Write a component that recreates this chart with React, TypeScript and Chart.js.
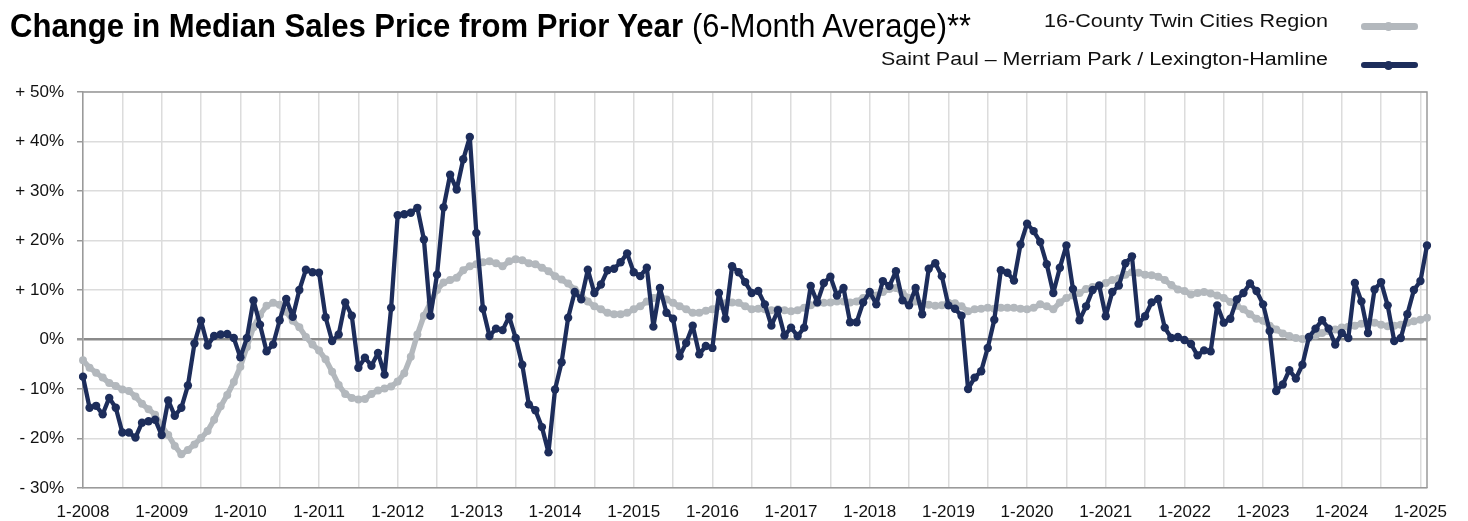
import React, { useEffect, useLayoutEffect, useRef } from "react";
import { Chart, registerables } from "chart.js";

Chart.register(...registerables);

const TITLE_BOLD = "Change in Median Sales Price from Prior Year";
const TITLE_REGULAR = "(6-Month Average)**";
const SERIES_NAMES = [
  "16-County Twin Cities Region",
  "Saint Paul – Merriam Park / Lexington-Hamline",
];

const START_YEAR = 2008;
const MONTH_COUNT = 206;
const categories: string[] = [];
for (let i = 0; i < MONTH_COUNT; i++) {
  categories.push(`${(i % 12) + 1}-${START_YEAR + Math.floor(i / 12)}`);
}

const Y_MIN = -30;
const Y_MAX = 50;
const Y_STEP = 10;

// 16-County Twin Cities Region (monthly, 1-2008 .. 2-2025)
const regionValues = [
  -4.2, -5.7, -6.7, -7.7, -8.8, -9.4, -10.1, -10.4, -11.5, -13.0, -14.1, -15.2,
  -17.5, -19.3, -21.5, -23.2, -22.3, -21.2, -19.9, -18.5, -16.2, -13.5, -11.2, -8.6,
  -5.5, -1.5, 2.5, 5.0, 6.8, 7.4, 7.0, 5.6, 3.8, 2.5, 0.5, -1.0,
  -2.2, -4.0, -6.5, -9.2, -11.0, -11.8, -12.1, -12.0, -11.0, -10.3, -9.9, -9.5,
  -8.5, -6.8, -3.5, 1.0, 4.8, 7.5, 10.0, 11.5, 12.0, 12.5, 14.0, 14.8,
  15.2, 15.6, 15.8, 15.4, 14.8, 15.8, 16.2, 16.0, 15.4, 15.2, 14.5, 13.8,
  12.8, 12.1, 11.3, 10.1, 8.8, 7.7, 6.7, 6.1, 5.4, 5.1, 5.1, 5.4,
  6.1, 6.7, 7.7, 8.4, 8.8, 8.1, 7.4, 6.7, 6.1, 5.4, 5.4, 5.8,
  6.1, 6.7, 7.3, 7.5, 7.4, 6.7, 6.1, 6.2, 6.1, 5.9, 6.1, 5.9,
  5.7, 5.9, 6.4, 6.9, 7.3, 7.4, 7.5, 7.7, 7.7, 7.5, 7.7, 8.4,
  8.9, 8.9, 9.6, 10.2, 10.4, 9.4, 8.4, 7.7, 7.2, 7.0, 6.8, 6.9,
  7.4, 7.3, 6.7, 5.7, 6.1, 6.2, 6.4, 6.2, 6.4, 6.4, 6.4, 6.2,
  6.1, 6.4, 7.1, 6.7, 6.1, 7.5, 8.4, 8.9, 9.4, 10.2, 10.6, 10.8,
  11.4, 12.0, 12.3, 13.1, 13.6, 13.5, 13.1, 13.0, 12.7, 12.0, 11.0, 10.1,
  9.8, 9.1, 9.4, 9.6, 9.3, 8.9, 8.4, 7.6, 6.8, 6.1, 5.1, 4.2,
  3.8, 2.8, 2.0, 1.2, 0.7, 0.3, 0.1, 0.3, 0.8, 1.3, 1.7, 2.0,
  2.4, 2.6, 2.8, 3.2, 3.5, 3.4, 3.0, 2.7, 2.8, 3.0, 3.4, 3.7,
  4.0, 4.4,
];

// Saint Paul – Merriam Park / Lexington-Hamline (monthly, 1-2008 .. 2-2025)
const neighborhoodValues = [
  -7.5, -13.8, -13.4, -15.1, -11.8, -13.8, -18.8, -18.8, -19.8, -16.8, -16.5, -16.2,
  -19.3, -12.3, -15.4, -13.8, -9.3, -0.8, 3.8, -1.2, 0.7, 1.0, 1.1, 0.3,
  -3.6, 0.3, 7.9, 3.0, -2.4, -1.0, 3.9, 8.2, 4.6, 10.0, 14.1, 13.6,
  13.5, 4.5, -0.3, 1.0, 7.5, 4.8, -5.7, -3.7, -5.3, -2.7, -7.1, 6.4,
  25.1, 25.3, 25.6, 26.6, 20.2, 4.8, 13.1, 26.7, 33.3, 30.3, 36.4, 40.9,
  21.5, 6.2, 0.7, 2.2, 1.9, 4.6, 0.3, -5.1, -13.1, -14.3, -17.7, -22.8,
  -10.1, -4.6, 4.4, 9.6, 8.1, 14.1, 9.4, 11.1, 14.0, 14.3, 15.6, 17.4,
  13.6, 12.8, 14.5, 2.6, 10.4, 5.4, 4.2, -3.4, -0.7, 2.8, -3.0, -1.3,
  -1.7, 9.4, 4.2, 14.8, 13.6, 11.6, 9.4, 9.8, 7.1, 2.8, 5.9, 0.8,
  2.4, 0.7, 2.4, 10.8, 7.5, 11.4, 12.7, 8.9, 10.4, 3.5, 3.5, 7.5,
  9.6, 7.1, 11.8, 10.8, 13.8, 7.9, 6.9, 10.4, 5.1, 14.3, 15.4, 12.8,
  6.9, 6.2, 4.8, -10.0, -7.7, -6.4, -1.7, 4.0, 14.0, 13.5, 11.9, 19.2,
  23.4, 21.9, 19.7, 15.2, 9.4, 14.5, 19.0, 10.2, 3.9, 6.7, 10.0, 10.9,
  4.7, 9.6, 10.9, 15.4, 16.8, 3.2, 4.7, 7.5, 8.2, 2.4, 0.3, 0.5,
  -0.1, -0.9, -3.2, -2.2, -2.4, 6.9, 3.4, 4.2, 8.1, 9.4, 11.3, 9.8,
  7.1, 1.7, -10.4, -9.1, -6.2, -7.9, -5.1, 0.5, 2.2, 3.9, 2.2, -1.0,
  1.3, 0.3, 11.4, 7.7, 1.3, 10.1, 11.6, 6.9, -0.3, 0.3, 5.1, 10.0,
  11.8, 19.0,
];

const NAVY = "#1d2d5b";
const GREY = "#b3b8bd";
const GRID = "#dcdcdc";
const FRAME = "#9a9a9a";
const FONT = "'Liberation Sans', Arial, Helvetica, sans-serif";

function formatPct(v: number): string {
  if (v > 0) return `+ ${v}%`;
  if (v < 0) return `- ${-v}%`;
  return "0%";
}

type FitProps = {
  text: string;
  left: number;
  width: number;
  baseline: number;
  size: number;
  weight?: number;
  color?: string;
};

function FitText({ text, left, width, baseline, size, weight = 400, color = "#111" }: FitProps) {
  const ref = useRef<HTMLSpanElement>(null);
  useLayoutEffect(() => {
    const el = ref.current;
    if (!el) return;
    el.style.transform = "none";
    const w = el.getBoundingClientRect().width;
    if (w > 0) el.style.transform = `scaleX(${width / w})`;
  }, [text, width, size]);
  return (
    <span
      ref={ref}
      style={{
        position: "absolute",
        left,
        top: baseline - 0.8465 * size,
        fontFamily: FONT,
        fontSize: size,
        lineHeight: `${size}px`,
        fontWeight: weight,
        color,
        whiteSpace: "nowrap",
        transformOrigin: "left center",
        display: "inline-block",
      }}
    >
      {text}
    </span>
  );
}

function LegendSwatch({ color, y }: { color: string; y: number }) {
  return (
    <>
      <div
        style={{
          position: "absolute",
          left: 1361,
          top: y - 3.3,
          width: 57,
          height: 6.6,
          borderRadius: 3.3,
          background: color,
        }}
      />
      <div
        style={{
          position: "absolute",
          left: 1388 - 4.5,
          top: y - 4.5,
          width: 9,
          height: 9,
          borderRadius: 4.5,
          background: color,
        }}
      />
    </>
  );
}

const framePlugin = {
  id: "frame",
  beforeDatasetsDraw(chart: any) {
    const { ctx, chartArea } = chart;
    ctx.save();
    ctx.strokeStyle = FRAME;
    ctx.lineWidth = 1.5;
    ctx.beginPath();
    ctx.moveTo(chartArea.left, chartArea.top);
    ctx.lineTo(chartArea.right, chartArea.top);
    ctx.lineTo(chartArea.right, chartArea.bottom);
    ctx.stroke();
    ctx.restore();
  },
};

export default function App() {
  const canvasRef = useRef<HTMLCanvasElement>(null);

  useEffect(() => {
    const canvas = canvasRef.current;
    if (!canvas) return;
    const chart = new Chart(canvas, {
      type: "line",
      data: {
        labels: categories,
        datasets: [
          {
            label: SERIES_NAMES[1],
            data: neighborhoodValues,
            borderColor: NAVY,
            backgroundColor: NAVY,
            pointBackgroundColor: NAVY,
            pointBorderWidth: 0,
            borderWidth: 4.3,
            borderJoinStyle: "round",
            borderCapStyle: "round",
            pointRadius: 4.2,
            tension: 0,
            order: 1,
          },
          {
            label: SERIES_NAMES[0],
            data: regionValues,
            borderColor: GREY,
            backgroundColor: GREY,
            pointBackgroundColor: GREY,
            pointBorderWidth: 0,
            borderWidth: 5.4,
            borderJoinStyle: "round",
            borderCapStyle: "round",
            pointRadius: 4,
            tension: 0,
            order: 2,
          },
        ],
      },
      options: {
        animation: false,
        responsive: false,
        devicePixelRatio: 1,
        layout: { padding: { top: 92, right: 41, left: 0, bottom: 0 } },
        plugins: {
          legend: { display: false },
          tooltip: { enabled: false },
          title: { display: false },
        },
        scales: {
          x: {
            type: "category",
            offset: false,
            afterFit: (s: any) => {
              s.height = 33;
            },
            grid: {
              offset: false,
              drawTicks: false,
              color: (c: any) => (c.index % 6 === 0 ? GRID : "rgba(0,0,0,0)"),
              lineWidth: 1.5,
            },
            border: { display: true, color: FRAME, width: 1.5 },
            ticks: {
              autoSkip: false,
              maxRotation: 0,
              minRotation: 0,
              padding: 14,
              color: "#111",
              font: { family: FONT, size: 17 },
              callback: (_v: any, i: number) => (i % 12 === 0 ? categories[i] : ""),
            },
          },
          y: {
            min: Y_MIN,
            max: Y_MAX,
            afterFit: (s: any) => {
              s.width = 83;
            },
            grid: {
              color: (c: any) => (c.tick && c.tick.value === 0 ? "#8a8a8a" : GRID),
              lineWidth: (c: any) => (c.tick && c.tick.value === 0 ? 2.5 : 1.5),
              tickColor: FRAME,
              tickLength: 6,
              drawTicks: true,
            },
            border: { display: true, color: FRAME, width: 1.5 },
            ticks: {
              stepSize: Y_STEP,
              padding: 13,
              color: "#111",
              font: { family: FONT, size: 17 },
              callback: (v: any) => formatPct(Number(v)),
            },
          },
        },
      },
      plugins: [framePlugin],
    });
    return () => chart.destroy();
  }, []);

  return (
    <div
      style={{
        position: "absolute",
        left: 0,
        top: 0,
        width: 1468,
        height: 521,
        background: "#fff",
        overflow: "hidden",
      }}
    >
      <canvas
        ref={canvasRef}
        width={1468}
        height={521}
        style={{ position: "absolute", left: 0, top: 0, width: 1468, height: 521 }}
      />
      <FitText text={TITLE_BOLD} left={10} width={673} baseline={36.7} size={34} weight={700} color="#000" />
      <FitText text={TITLE_REGULAR} left={692} width={279} baseline={36.7} size={34} weight={400} color="#000" />
      <FitText text={SERIES_NAMES[0]} left={1044} width={284} baseline={27.3} size={18} color="#111" />
      <FitText text={SERIES_NAMES[1]} left={881} width={447} baseline={65} size={18} color="#111" />
      <LegendSwatch color={GREY} y={26.7} />
      <LegendSwatch color={NAVY} y={65} />
    </div>
  );
}
